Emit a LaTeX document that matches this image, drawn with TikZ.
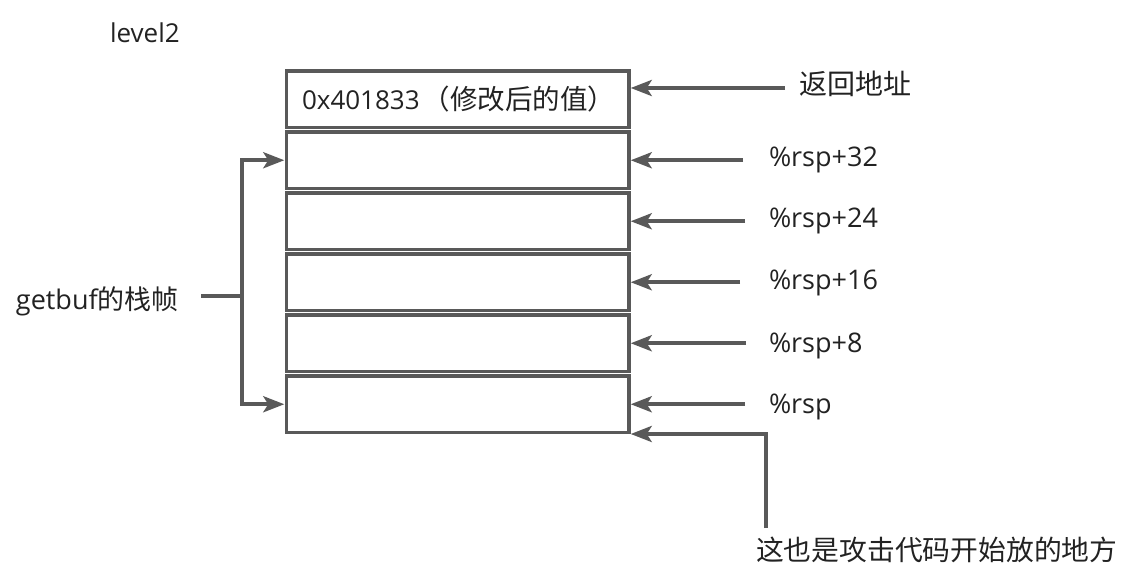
\documentclass[tikz,border=0pt]{standalone}
\usepackage{fontspec}
\setmainfont{Open Sans}
\newfontfamily\cjk{Noto Sans CJK SC}
\usetikzlibrary{arrows.meta}
\definecolor{linegray}{HTML}{595959}
\definecolor{ink}{HTML}{222222}
\begin{document}
\begin{tikzpicture}[x=1pt,y=-1pt,
  cell/.style={draw=linegray, line width=3.6pt, minimum width=342.4pt,
    minimum height=56.5pt, inner sep=0pt, outer sep=0pt, anchor=north west},
  lbl/.style={inner sep=0pt, outer sep=0pt, text=ink, anchor=base west},
  conn/.style={draw=linegray, line width=3.9pt},
  arr/.style={conn, -{Stealth[length=21pt,width=16pt,inset=5pt]}}]
\useasboundingbox (0,0) rectangle (1129,585);

% title
\node[lbl, font=\fontsize{26}{30}\selectfont] (title) at (110,43) {level2};

% stack cells, top to bottom
\foreach \i in {1,...,6}
  \node[cell] (b\i) at (286.3,{71+61*(\i-1)}) {};
\node[lbl, font=\fontsize{26}{30}\selectfont] (val) at (302,110)
  {0x401833\hspace{3pt}{\cjk\fontsize{27.5}{30}\selectfont （修改后的值）}};

% labels on the right
\node[lbl, anchor=west, font=\fontsize{28}{32}\cjk] (ret) at (799,84) {返回地址};
\node[lbl, font=\fontsize{27}{30}\selectfont] (r32) at (769,167) {\%rsp+32};
\node[lbl, font=\fontsize{27}{30}\selectfont] (r24) at (769,228) {\%rsp+24};
\node[lbl, font=\fontsize{27}{30}\selectfont] (r16) at (769,289) {\%rsp+16};
\node[lbl, font=\fontsize{27}{30}\selectfont] (r8)  at (769,352) {\%rsp+8};
\node[lbl, font=\fontsize{27}{30}\selectfont] (r0)  at (769,413) {\%rsp};
\node[lbl, anchor=west, font=\fontsize{27.8}{32}\cjk] (code) at (756,550)
  {这也是攻击代码开始放的地方};

% frame label on the left
\node[lbl, font=\fontsize{27}{30}\selectfont] (frame) at (16,309)
  {getbuf{\cjk 的栈帧}};

% arrow start points
\coordinate (s0) at (785,88);
\coordinate (s1) at (743,160.25);
\coordinate (s2) at (745,221.25);
\coordinate (s3) at (740,282.25);
\coordinate (s4) at (746,343.25);
\coordinate (s5) at (745,404.25);
\coordinate (s6) at (766,528);
\coordinate (fork) at (242,296);
\coordinate (stub) at (201,296);

% pointers into the stack
\draw[arr] (s0) -- ([xshift=2pt]s0 -| b1.east);
\draw[arr] (s1) -- ([xshift=2pt]b2.east);
\draw[arr] (s2) -- ([xshift=2pt]b3.east);
\draw[arr] (s3) -- ([xshift=2pt]b4.east);
\draw[arr] (s4) -- ([xshift=2pt]b5.east);
\draw[arr] (s5) -- ([xshift=2pt]b6.east);
\draw[arr] (s6) |- ([xshift=2pt,yshift=-1.5pt]b6.south east);

% bracket spanning the frame
\draw[conn] (stub) -- (fork);
\draw[arr] (fork) |- ([xshift=-2pt]b2.west);
\draw[arr] (fork) |- ([xshift=-2pt]b6.west);
\end{tikzpicture}
\end{document}
